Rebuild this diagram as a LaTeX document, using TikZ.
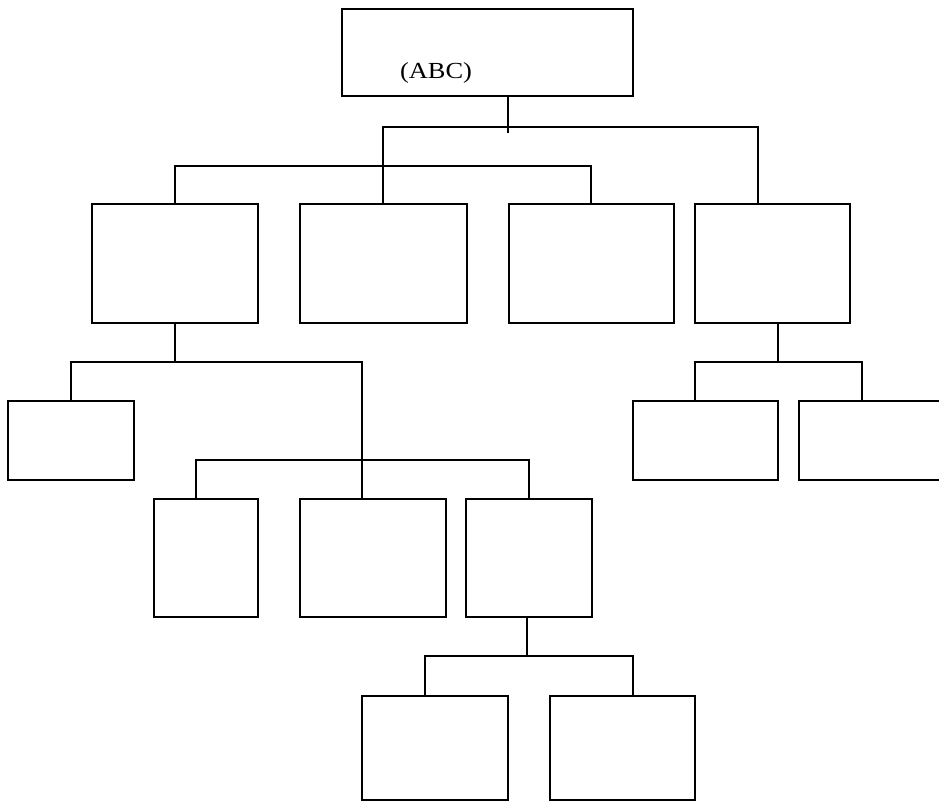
\documentclass[tikz,border=0pt]{standalone}
\usepackage{fontspec}
\setmainfont{Liberation Serif}
\begin{document}
\begin{tikzpicture}[x=1pt,y=-1pt,
  box/.style={draw=black,line width=1.8pt,inner sep=0pt,fill=white},
  conn/.style={draw=black,line width=1.8pt}]
\useasboundingbox (0,0) rectangle (939,801);
\clip (0,0) rectangle (939,801);
% boxes (centre, width, height)
\node[box,minimum width=291pt,minimum height=87pt] (top) at (487.5,52.5) {};
\node[font=\fontsize{23}{23}\selectfont,anchor=base] (lbl) at (436,78) {\scalebox{1.15}[1]{(ABC)}};
\node[box,minimum width=166pt,minimum height=119pt] (bA) at (175,263.5) {};
\node[box,minimum width=167pt,minimum height=119pt] (bB) at (383.5,263.5) {};
\node[box,minimum width=165pt,minimum height=119pt] (bC) at (591.5,263.5) {};
\node[box,minimum width=155pt,minimum height=119pt] (bD) at (772.5,263.5) {};
\node[box,minimum width=126pt,minimum height=79pt] (bE) at (71,440.5) {};
\node[box,minimum width=104pt,minimum height=118pt] (bF) at (206,558) {};
\node[box,minimum width=146pt,minimum height=118pt] (bG) at (373,558) {};
\node[box,minimum width=126pt,minimum height=118pt] (bH) at (529,558) {};
\node[box,minimum width=146pt,minimum height=104pt] (bI) at (435,748) {};
\node[box,minimum width=145pt,minimum height=104pt] (bJ) at (622.5,748) {};
\node[box,minimum width=145pt,minimum height=79pt] (bK) at (705.5,440.5) {};
\node[box,minimum width=160pt,minimum height=79pt] (bL) at (879,440.5) {};
% junction coordinates
\coordinate (s1) at (508,127);
\coordinate (s1e) at (508,133);
\coordinate (h1L) at (383,127);
\coordinate (h1R) at (758,127);
\coordinate (h2L) at (175,166);
\coordinate (h2R) at (591,166);
\coordinate (h3L) at (71,362);
\coordinate (h3R) at (362,362);
\coordinate (h4L) at (196,460);
\coordinate (h4R) at (529,460);
\coordinate (h5L) at (425,656);
\coordinate (h5R) at (633,656);
\coordinate (h6L) at (695,362);
\coordinate (h6R) at (862,362);
% connectors
\draw[conn] (top.south -| s1) -- (s1e);
\draw[conn] (bB.north -| h1L) -- (h1L) -- (h1R) -- (bD.north -| h1R);
\draw[conn] (bA.north -| h2L) -- (h2L) -- (h2R) -- (bC.north -| h2R);
\draw[conn] (bA.south) -- (bA.south |- h3L);
\draw[conn] (bE.north -| h3L) -- (h3L) -- (h3R) -- (bG.north -| h3R);
\draw[conn] (bF.north -| h4L) -- (h4L) -- (h4R) -- (bH.north -| h4R);
\draw[conn] (bH.south -| 527,0) -- (527,656);
\draw[conn] (bI.north -| h5L) -- (h5L) -- (h5R) -- (bJ.north -| h5R);
\draw[conn] (bD.south -| 778,0) -- (778,362);
\draw[conn] (bK.north -| h6L) -- (h6L) -- (h6R) -- (bL.north -| h6R);
\end{tikzpicture}
\end{document}
